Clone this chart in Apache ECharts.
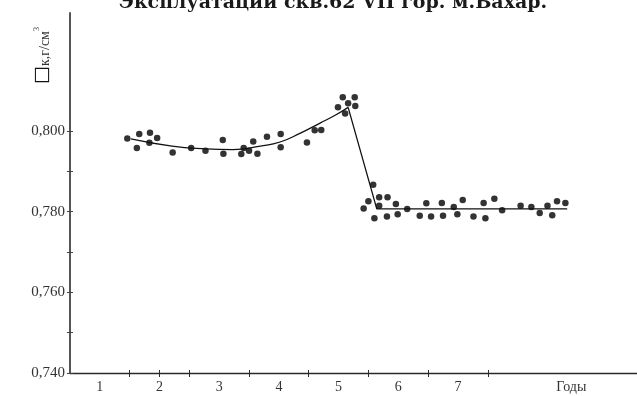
<!DOCTYPE html>
<html lang="ru">
<head>
    <meta charset="UTF-8">
    <title>Плотность нефти скв.62</title>
    <script src="https://cdn.jsdelivr.net/npm/echarts@6.0.0/dist/echarts.min.js"></script>
    <style>
        html, body { margin: 0; padding: 0; background: #fff; }
        #chart { width: 637px; height: 396px; }
    </style>
</head>
<body>
    <div id="chart"></div>
    <script type="text/javascript">
        // замеры плотности (годы эксплуатации / г/см3)
        var pointYears = [0.96, 1.12, 1.16, 1.34, 1.33, 1.46, 1.72, 2.03, 2.27, 2.56, 2.57, 2.87, 2.91, 3.00, 3.07, 3.14, 3.30, 3.53, 3.53, 3.97,
            4.10, 4.21, 4.57, 4.77, 4.49, 4.66, 4.78, 4.61, 5.08, 4.92, 5.00, 5.18, 5.18, 5.10, 5.32, 5.31, 5.46, 5.49, 5.65, 5.86,
            5.97, 6.05, 6.23, 6.25, 6.43, 6.49, 6.58, 6.76, 6.93, 6.96, 7.11, 7.24, 7.55, 7.73, 7.87, 8.00, 8.08, 8.16, 8.30];
        var pointDensity = [0.7982, 0.7958, 0.7993, 0.7996, 0.7971, 0.7983, 0.7947, 0.7958, 0.7951, 0.7978, 0.7944, 0.7943, 0.7958, 0.7951, 0.7974, 0.7944, 0.7986, 0.7993, 0.7960, 0.7972,
            0.8002, 0.8003, 0.8084, 0.8084, 0.8059, 0.8069, 0.8062, 0.8044, 0.7867, 0.7808, 0.7826, 0.7836, 0.7815, 0.7784, 0.7836, 0.7788, 0.7819, 0.7794, 0.7807, 0.7790,
            0.7821, 0.7788, 0.7822, 0.7790, 0.7812, 0.7794, 0.7829, 0.7788, 0.7822, 0.7784, 0.7832, 0.7804, 0.7815, 0.7812, 0.7797, 0.7815, 0.7791, 0.7826, 0.7822];

        // аппроксимирующая кривая до пика
        var trendYears = [1.02, 1.71, 2.27, 2.73, 3.19, 3.52, 3.86, 4.19, 4.45, 4.66];
        var trendDensity = [0.7981, 0.7963, 0.7956, 0.7954, 0.7963, 0.7973, 0.7995, 0.8020, 0.8040, 0.8059];

        // падение и горизонтальный участок
        var dropYears = [4.66, 5.14, 8.33];
        var dropDensity = [0.8059, 0.7807, 0.7807];

        var yearTicks = [1, 1.5, 2, 3, 4, 5, 6, 7];
        var yearLabels = [0.5, 1.5, 2.5, 3.5, 4.5, 5.5, 6.5, 8.4];
        var densityTicks = [0.74, 0.75, 0.76, 0.77, 0.78, 0.79, 0.80];
        var densityLabels = [0.74, 0.76, 0.78, 0.80];

        function zip(a, b) {
            var out = [];
            for (var i = 0; i < a.length; i++) out.push([a[i], b[i]]);
            return out;
        }

        var myChart = echarts.init(document.getElementById('chart'));

        var serif = '"Liberation Serif", "Times New Roman", serif';
        var xBase = { type: 'value', min: 0, max: 9.5, position: 'bottom', splitLine: { show: false } };
        var yBase = { type: 'value', min: 0.74, max: 0.8293, position: 'left', splitLine: { show: false } };

        var option = {
            animation: false,
            grid: { left: 70, right: 0, top: 13, bottom: 23, outerBoundsMode: 'none' },
            graphic: [
                {
                    type: 'text', x: 333, y: 13,
                    style: {
                        text: 'Эксплуатации скв.62 VII гор. м.Бахар.',
                        font: 'bold 19px "DejaVu Serif", serif',
                        fill: '#1a1a1a', align: 'center', verticalAlign: 'bottom'
                    }
                },
                {
                    type: 'text', x: 52, y: 84, rotation: Math.PI / 2,
                    style: {
                        text: '{b|□}{t|к,г/см}{s|3}',
                        align: 'left', verticalAlign: 'bottom',
                        rich: {
                            b: { fontFamily: '"DejaVu Sans"', fontSize: 19, fill: '#111', verticalAlign: 'bottom' },
                            t: { fontFamily: serif, fontSize: 14, fill: '#333', verticalAlign: 'bottom' },
                            s: { fontFamily: serif, fontSize: 8, fill: '#333', verticalAlign: 'top' }
                        }
                    }
                }
            ],
            xAxis: [
                Object.assign({}, xBase, {
                    axisLine: { lineStyle: { color: '#2a2a2a', width: 1.3 } },
                    axisTick: { show: true, customValues: yearTicks, length: 4, lineStyle: { color: '#2a2a2a' } },
                    axisLabel: {
                        customValues: yearLabels, margin: 7,
                        fontFamily: serif, fontSize: 14, color: '#333',
                        formatter: function (v) { return v > 8 ? 'Годы' : String(v + 0.5); }
                    }
                }),
                Object.assign({}, xBase, {
                    axisLine: { show: false },
                    axisTick: { show: true, inside: true, customValues: yearTicks, length: 3, lineStyle: { color: '#2a2a2a' } },
                    axisLabel: { show: false }
                })
            ],
            yAxis: [
                Object.assign({}, yBase, {
                    axisLine: { lineStyle: { color: '#555', width: 2 } },
                    axisTick: { show: true, customValues: densityTicks, length: 3, lineStyle: { color: '#444' } },
                    axisLabel: {
                        customValues: densityLabels, margin: 5,
                        fontFamily: serif, fontSize: 15, color: '#333',
                        formatter: function (v) { return v.toFixed(3).replace('.', ','); }
                    }
                }),
                Object.assign({}, yBase, {
                    axisLine: { show: false },
                    axisTick: { show: true, inside: true, customValues: densityTicks, length: 3, lineStyle: { color: '#444' } },
                    axisLabel: { show: false }
                })
            ],
            series: [
                {
                    type: 'line', smooth: 0.5, showSymbol: false,
                    data: zip(trendYears, trendDensity),
                    lineStyle: { color: '#111', width: 1.3 }
                },
                {
                    type: 'line', showSymbol: false,
                    data: zip(dropYears, dropDensity),
                    lineStyle: { color: '#111', width: 1.3 }
                },
                {
                    type: 'scatter', symbolSize: 6.5,
                    data: zip(pointYears, pointDensity),
                    itemStyle: { color: '#000' }
                }
            ]
        };

        myChart.setOption(option);
    </script>
</body>
</html>
